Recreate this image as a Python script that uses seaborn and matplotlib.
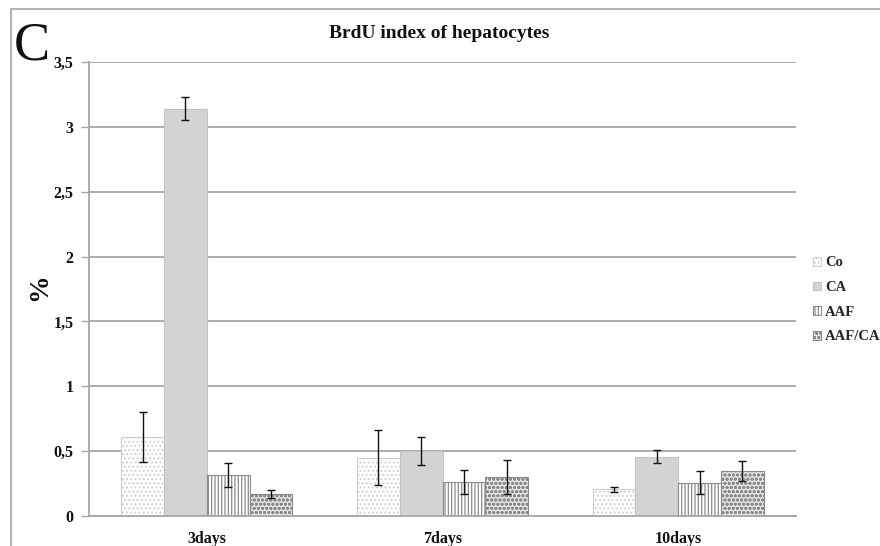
import matplotlib
matplotlib.use("Agg")
import matplotlib.pyplot as plt
from matplotlib.patches import Patch
from matplotlib.lines import Line2D
from matplotlib.ticker import FixedLocator, FuncFormatter
import seaborn as sns
import pandas as pd

# BrdU labelling index (%) per time point and treatment group
days = ["3days", "7days", "10days"]
groups = ["Co", "CA", "AAF", "AAF/CA"]
co_mean = [0.61, 0.45, 0.205]
ca_mean = [3.14, 0.50, 0.457]
aaf_mean = [0.313, 0.262, 0.258]
aafca_mean = [0.172, 0.298, 0.347]
co_err = [0.19, 0.21, 0.018]
ca_err = [0.09, 0.11, 0.05]
aaf_err = [0.093, 0.09, 0.09]
aafca_err = [0.031, 0.13, 0.08]

means = {"Co": co_mean, "CA": ca_mean, "AAF": aaf_mean, "AAF/CA": aafca_mean}
errs = {"Co": co_err, "CA": ca_err, "AAF": aaf_err, "AAF/CA": aafca_err}

rows = []
for g in groups:
    for d, v in zip(days, means[g]):
        rows.append({"day": d, "group": g, "value": v})
df = pd.DataFrame(rows)

sns.set_theme(style="white")
plt.rcParams["font.family"] = ["Liberation Serif", "DejaVu Serif"]
plt.rcParams["hatch.linewidth"] = 0.9

fig = plt.figure(figsize=(8.8, 5.46), dpi=100)
ax = fig.add_axes([89 / 880, 30 / 546, (796 - 89) / 880, (516 - 62) / 546])

styles = {
    "Co": dict(facecolor="#ffffff", hatch="....", edgecolor="#cfcfcf"),
    "CA": dict(facecolor="#d3d3d3", hatch=None, edgecolor="#c4c4c4"),
    "AAF": dict(facecolor="#ffffff", hatch="|||||", edgecolor="#8c8c8c"),
    "AAF/CA": dict(facecolor="#e6e6e6", hatch="oooo", edgecolor="#8a8a8a"),
}

sns.barplot(data=df, x="day", y="value", hue="group", order=days,
            hue_order=groups, width=0.725, errorbar=None, legend=False,
            ax=ax, zorder=2)

for g, cont in zip(groups, ax.containers):
    st = styles[g]
    for bar, e in zip(cont.patches, errs[g]):
        bar.set_facecolor(st["facecolor"])
        bar.set_edgecolor(st["edgecolor"])
        bar.set_linewidth(0.8)
        if st["hatch"]:
            bar.set_hatch(st["hatch"])
        cx = bar.get_x() + bar.get_width() / 2
        ax.errorbar(cx, bar.get_height(), yerr=e, fmt="none", ecolor="#111111",
                    elinewidth=1.0, capsize=3, capthick=1.0, zorder=4)

ax.set_ylim(0, 3.5)
ax.set_xlim(-0.5, 2.5)
yt = [0, 0.5, 1, 1.5, 2, 2.5, 3, 3.5]
ax.yaxis.set_major_locator(FixedLocator(yt))
ax.yaxis.set_major_formatter(FuncFormatter(lambda v, p: f"{v:g}".replace(".", ",")))
ax.grid(axis="y", color="#a6a6a6", linewidth=1.3, zorder=0)
ax.set_axisbelow(True)
ax.xaxis.set_minor_locator(FixedLocator([0.5, 1.5, 2.5]))
ax.tick_params(axis="x", which="major", length=0, pad=11)
ax.tick_params(axis="x", which="minor", length=5, color="#a6a6a6", width=1, direction="out")
ax.tick_params(axis="y", length=6, color="#a6a6a6", width=1, direction="out", left=True, pad=5)
for lbl in ax.get_xticklabels() + ax.get_yticklabels():
    lbl.set_fontweight("bold")
    lbl.set_color("#111111")
for lbl in ax.get_yticklabels():
    lbl.set_fontsize(11.5)
for lbl in ax.get_xticklabels():
    lbl.set_fontsize(11.5)

for s in ["top", "right"]:
    ax.spines[s].set_visible(False)
for s in ["left", "bottom"]:
    ax.spines[s].set_color("#a6a6a6")
    ax.spines[s].set_linewidth(1.3)

ax.set_xlabel("")
ax.set_ylabel("%", fontsize=20, fontweight="bold", color="#111111")
ax.yaxis.set_label_coords(-0.052, 0.505)

fig.text(439 / 880, 1 - 33 / 546, "BrdU index of hepatocytes", ha="center", va="center",
         fontsize=14, fontweight="bold", color="#111111")
fig.text(14 / 880, 1 - 59 / 546, "C", ha="left", va="baseline", fontsize=39,
         color="#111111")

# outer frame (top and left edges)
fig.add_artist(Line2D([11 / 880, 1], [1 - 9 / 546, 1 - 9 / 546], color="#b4b4b4",
                      linewidth=1.5, transform=fig.transFigure))
fig.add_artist(Line2D([11 / 880, 11 / 880], [0, 1 - 9 / 546], color="#b4b4b4",
                      linewidth=1.5, transform=fig.transFigure))

handles = [Patch(facecolor=styles[g]["facecolor"], edgecolor=styles[g]["edgecolor"],
                 hatch=styles[g]["hatch"], linewidth=0.8) for g in groups]
leg = fig.legend(handles, groups, loc="center left", bbox_to_anchor=(803 / 880, 1 - 300 / 546),
                 frameon=False, handlelength=0.55, handleheight=0.55, handletextpad=0.25,
                 labelspacing=0.8, borderpad=0.2, prop={"weight": "bold", "size": 10.5})

fig.savefig("out.png", dpi=100)
